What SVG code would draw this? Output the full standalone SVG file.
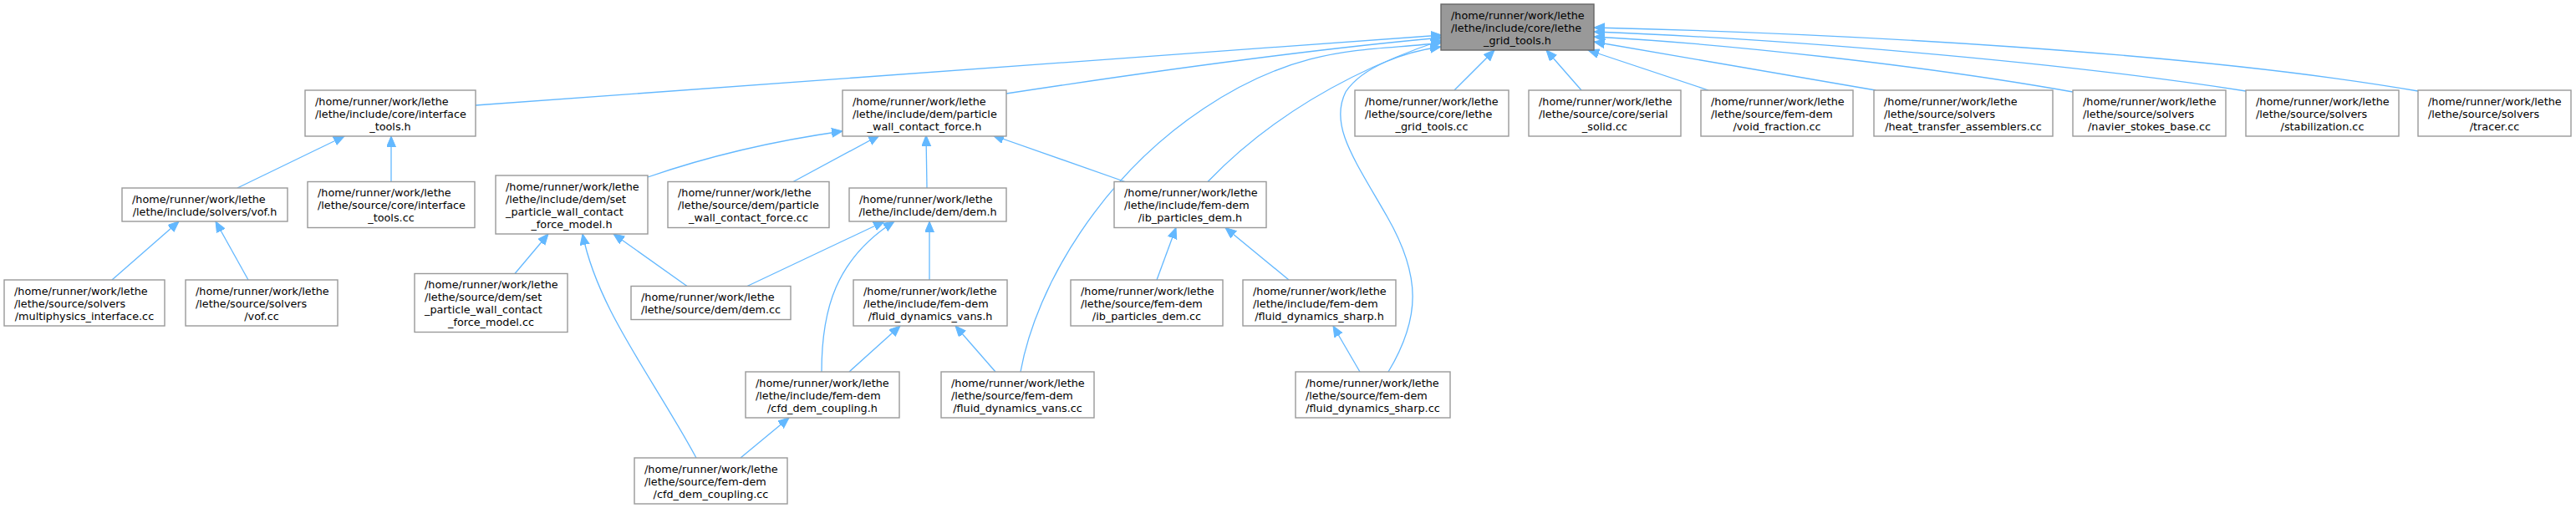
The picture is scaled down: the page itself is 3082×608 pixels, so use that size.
<svg xmlns="http://www.w3.org/2000/svg" width="3082" height="608" viewBox="0 0 3082 608">
<style>
.n rect{fill:#ffffff;stroke:#999999;stroke-width:1.4}
.root rect{fill:#999999;stroke:#666666;stroke-width:1.4}
text{font-family:"DejaVu Sans","Liberation Sans",sans-serif;font-size:12.8px;fill:#000000}
.l{text-anchor:start}
.c{text-anchor:middle}
.e path{fill:none;stroke:#63b8ff;stroke-width:1.3;marker-end:url(#ah)}
</style>
<defs>
<marker id="ah" markerUnits="userSpaceOnUse" markerWidth="15" markerHeight="12" refX="13" refY="5.5" orient="auto">
<path d="M0,0 L13,5.5 L0,11 Z" fill="#63b8ff" stroke="#63b8ff" stroke-width="1"/>
</marker>
</defs>
<rect width="3082" height="608" fill="#ffffff"/>
<g class="e" id="edges">
<path d="M569,126 L1725,42"/>
<path d="M1204,112 C1400,82 1580,58 1725,45"/>
<path d="M1445,217.5 C1510,150 1600,90 1725,48"/>
<path d="M1221,445 C1240,340 1320,210 1440,130 S1640,62 1725,51"/>
<path d="M1661,445 C1700,380 1700,330 1660,260 C1620,190 1590,150 1610,110 C1630,80 1680,62 1724,56"/>
<path d="M1740,108 L1788,60"/>
<path d="M1892,108 L1850,60"/>
<path d="M2044,108 L1900,60"/>
<path d="M2244,108 L1907,50"/>
<path d="M2480,110 C2300,78 2060,52 1907,44"/>
<path d="M2687,109 C2450,72 2120,46 1907,38"/>
<path d="M2893,109 C2620,62 2200,40 1907,33"/>
<path d="M284,225 L412,163"/>
<path d="M468,217.5 L468,163"/>
<path d="M134,335 L214,265"/>
<path d="M297,335 L258,265"/>
<path d="M775,212 C850,186 930,168 1008,157"/>
<path d="M949,217.5 L1052,162"/>
<path d="M1109,225 L1108,162"/>
<path d="M1346,217.5 L1188,162"/>
<path d="M616,327.5 L656,280"/>
<path d="M822,342.5 L734,280"/>
<path d="M833,548 C780,450 715,370 697,280"/>
<path d="M894,342.5 L1058,265"/>
<path d="M983,445 C983,370 1000,310 1070,265"/>
<path d="M1112,335 L1112,265"/>
<path d="M1384,335 L1407,272.5"/>
<path d="M1542,335 L1466,272.5"/>
<path d="M1016,445 L1077,390"/>
<path d="M1191,445 L1143,390"/>
<path d="M886,548 L944,500"/>
<path d="M1627,445 L1595,390"/>
</g>
<g class="root" id="n_root"><rect x="1724" y="5" width="183" height="55"/>
<text class="l" x="1736" y="22.5">/home/runner/work/lethe</text><text class="l" x="1736" y="37.5">/lethe/include/core/lethe</text><text class="c" x="1815.5" y="52.5">_grid_tools.h</text></g>
<g class="n" id="n_interface_tools_h"><rect x="365" y="108" width="204" height="55"/>
<text class="l" x="377" y="125.5">/home/runner/work/lethe</text><text class="l" x="377" y="140.5">/lethe/include/core/interface</text><text class="c" x="467" y="155.5">_tools.h</text></g>
<g class="n" id="n_pwcf_h"><rect x="1008" y="108" width="196" height="55"/>
<text class="l" x="1020" y="125.5">/home/runner/work/lethe</text><text class="l" x="1020" y="140.5">/lethe/include/dem/particle</text><text class="c" x="1106" y="155.5">_wall_contact_force.h</text></g>
<g class="n" id="n_lethe_grid_tools_cc"><rect x="1621" y="108" width="184" height="55"/>
<text class="l" x="1633" y="125.5">/home/runner/work/lethe</text><text class="l" x="1633" y="140.5">/lethe/source/core/lethe</text><text class="c" x="1713" y="155.5">_grid_tools.cc</text></g>
<g class="n" id="n_serial_solid_cc"><rect x="1829" y="108" width="182" height="55"/>
<text class="l" x="1841" y="125.5">/home/runner/work/lethe</text><text class="l" x="1841" y="140.5">/lethe/source/core/serial</text><text class="c" x="1920" y="155.5">_solid.cc</text></g>
<g class="n" id="n_void_fraction_cc"><rect x="2035" y="108" width="182" height="55"/>
<text class="l" x="2047" y="125.5">/home/runner/work/lethe</text><text class="l" x="2047" y="140.5">/lethe/source/fem-dem</text><text class="c" x="2126" y="155.5">/void_fraction.cc</text></g>
<g class="n" id="n_heat_transfer_assemblers_cc"><rect x="2242" y="108" width="214" height="55"/>
<text class="l" x="2254" y="125.5">/home/runner/work/lethe</text><text class="l" x="2254" y="140.5">/lethe/source/solvers</text><text class="c" x="2349" y="155.5">/heat_transfer_assemblers.cc</text></g>
<g class="n" id="n_navier_stokes_base_cc"><rect x="2480" y="108" width="183" height="55"/>
<text class="l" x="2492" y="125.5">/home/runner/work/lethe</text><text class="l" x="2492" y="140.5">/lethe/source/solvers</text><text class="c" x="2571.5" y="155.5">/navier_stokes_base.cc</text></g>
<g class="n" id="n_stabilization_cc"><rect x="2687" y="108" width="183" height="55"/>
<text class="l" x="2699" y="125.5">/home/runner/work/lethe</text><text class="l" x="2699" y="140.5">/lethe/source/solvers</text><text class="c" x="2778.5" y="155.5">/stabilization.cc</text></g>
<g class="n" id="n_tracer_cc"><rect x="2893" y="108" width="183" height="55"/>
<text class="l" x="2905" y="125.5">/home/runner/work/lethe</text><text class="l" x="2905" y="140.5">/lethe/source/solvers</text><text class="c" x="2984.5" y="155.5">/tracer.cc</text></g>
<g class="n" id="n_vof_h"><rect x="146" y="225" width="198" height="40"/>
<text class="l" x="158" y="242.5">/home/runner/work/lethe</text><text class="c" x="245" y="257.5">/lethe/include/solvers/vof.h</text></g>
<g class="n" id="n_interface_tools_cc"><rect x="368" y="217.5" width="200" height="55"/>
<text class="l" x="380" y="235">/home/runner/work/lethe</text><text class="l" x="380" y="250">/lethe/source/core/interface</text><text class="c" x="468" y="265">_tools.cc</text></g>
<g class="n" id="n_set_pwcf_model_h"><rect x="593" y="210" width="182" height="70"/>
<text class="l" x="605" y="227.5">/home/runner/work/lethe</text><text class="l" x="605" y="242.5">/lethe/include/dem/set</text><text class="l" x="605" y="257.5">_particle_wall_contact</text><text class="c" x="684" y="272.5">_force_model.h</text></g>
<g class="n" id="n_pwcf_cc"><rect x="799" y="217.5" width="193" height="55"/>
<text class="l" x="811" y="235">/home/runner/work/lethe</text><text class="l" x="811" y="250">/lethe/source/dem/particle</text><text class="c" x="895.5" y="265">_wall_contact_force.cc</text></g>
<g class="n" id="n_dem_h"><rect x="1016" y="225" width="188" height="40"/>
<text class="l" x="1028" y="242.5">/home/runner/work/lethe</text><text class="c" x="1110" y="257.5">/lethe/include/dem/dem.h</text></g>
<g class="n" id="n_ib_particles_dem_h"><rect x="1333" y="217.5" width="182" height="55"/>
<text class="l" x="1345" y="235">/home/runner/work/lethe</text><text class="l" x="1345" y="250">/lethe/include/fem-dem</text><text class="c" x="1424" y="265">/ib_particles_dem.h</text></g>
<g class="n" id="n_multiphysics_interface_cc"><rect x="5" y="335" width="192" height="55"/>
<text class="l" x="17" y="352.5">/home/runner/work/lethe</text><text class="l" x="17" y="367.5">/lethe/source/solvers</text><text class="c" x="101" y="382.5">/multiphysics_interface.cc</text></g>
<g class="n" id="n_vof_cc"><rect x="222" y="335" width="182" height="55"/>
<text class="l" x="234" y="352.5">/home/runner/work/lethe</text><text class="l" x="234" y="367.5">/lethe/source/solvers</text><text class="c" x="313" y="382.5">/vof.cc</text></g>
<g class="n" id="n_set_pwcf_model_cc"><rect x="496" y="327.5" width="183" height="70"/>
<text class="l" x="508" y="345">/home/runner/work/lethe</text><text class="l" x="508" y="360">/lethe/source/dem/set</text><text class="l" x="508" y="375">_particle_wall_contact</text><text class="c" x="587.5" y="390">_force_model.cc</text></g>
<g class="n" id="n_dem_cc"><rect x="755" y="342.5" width="191" height="40"/>
<text class="l" x="767" y="360">/home/runner/work/lethe</text><text class="c" x="850.5" y="375">/lethe/source/dem/dem.cc</text></g>
<g class="n" id="n_fluid_dynamics_vans_h"><rect x="1021" y="335" width="184" height="55"/>
<text class="l" x="1033" y="352.5">/home/runner/work/lethe</text><text class="l" x="1033" y="367.5">/lethe/include/fem-dem</text><text class="c" x="1113" y="382.5">/fluid_dynamics_vans.h</text></g>
<g class="n" id="n_ib_particles_dem_cc"><rect x="1281" y="335" width="182" height="55"/>
<text class="l" x="1293" y="352.5">/home/runner/work/lethe</text><text class="l" x="1293" y="367.5">/lethe/source/fem-dem</text><text class="c" x="1372" y="382.5">/ib_particles_dem.cc</text></g>
<g class="n" id="n_fluid_dynamics_sharp_h"><rect x="1487" y="335" width="183" height="55"/>
<text class="l" x="1499" y="352.5">/home/runner/work/lethe</text><text class="l" x="1499" y="367.5">/lethe/include/fem-dem</text><text class="c" x="1578.5" y="382.5">/fluid_dynamics_sharp.h</text></g>
<g class="n" id="n_cfd_dem_coupling_h"><rect x="892" y="445" width="184" height="55"/>
<text class="l" x="904" y="462.5">/home/runner/work/lethe</text><text class="l" x="904" y="477.5">/lethe/include/fem-dem</text><text class="c" x="984" y="492.5">/cfd_dem_coupling.h</text></g>
<g class="n" id="n_fluid_dynamics_vans_cc"><rect x="1126" y="445" width="183" height="55"/>
<text class="l" x="1138" y="462.5">/home/runner/work/lethe</text><text class="l" x="1138" y="477.5">/lethe/source/fem-dem</text><text class="c" x="1217.5" y="492.5">/fluid_dynamics_vans.cc</text></g>
<g class="n" id="n_fluid_dynamics_sharp_cc"><rect x="1550" y="445" width="185" height="55"/>
<text class="l" x="1562" y="462.5">/home/runner/work/lethe</text><text class="l" x="1562" y="477.5">/lethe/source/fem-dem</text><text class="c" x="1642.5" y="492.5">/fluid_dynamics_sharp.cc</text></g>
<g class="n" id="n_cfd_dem_coupling_cc"><rect x="759" y="548" width="183" height="55"/>
<text class="l" x="771" y="565.5">/home/runner/work/lethe</text><text class="l" x="771" y="580.5">/lethe/source/fem-dem</text><text class="c" x="850.5" y="595.5">/cfd_dem_coupling.cc</text></g>
</svg>
